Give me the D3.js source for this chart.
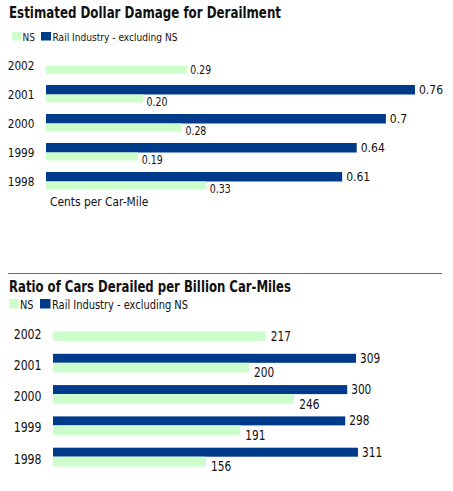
<!DOCTYPE html>
<html><head><meta charset="utf-8">
<script src="https://cdn.jsdelivr.net/npm/d3@7/dist/d3.min.js"></script>
<style>
html,body{margin:0;padding:0;background:#fff;}
svg{display:block;}
text{font-family:"Liberation Sans Narrow","DejaVu Sans Condensed","Open Sans",sans-serif;fill:#111;}
</style></head>
<body>
<svg id="c" width="453" height="491"></svg>
<script>
const years = ["2002","2001","2000","1999","1998"];
const seriesNames = ["NS","Rail Industry - excluding NS"];
const damageNS = [0.29, 0.20, 0.28, 0.19, 0.33];
const damageRail = [null, 0.76, 0.7, 0.64, 0.61];
const damageRailLabels = ["", "0.76", "0.7", "0.64", "0.61"];
const damageNSLabels = ["0.29", "0.20", "0.28", "0.19", "0.33"];
const ratioNS = [217, 200, 246, 191, 156];
const ratioRail = [null, 309, 300, 298, 311];
const title1 = "Estimated Dollar Damage for Derailment";
const title2 = "Ratio of Cars Derailed per Billion Car-Miles";
const unitLabel = "Cents per Car-Mile";

const GREEN = "#ccffcc", BLUE = "#003a8a";
const svg = d3.select("#c");

function drawChart(cfg){
  const g = svg.append("g");
  g.append("text").attr("x", 9).attr("y", cfg.titleY)
    .attr("font-weight","bold").attr("font-size", cfg.titleSize)
    .attr("textLength", cfg.titleLen).attr("lengthAdjust","spacingAndGlyphs")
    .text(cfg.title);
  // legend
  const lg = g.append("g");
  lg.append("rect").attr("x", cfg.leg.x1).attr("y", cfg.leg.y).attr("width", cfg.leg.sw).attr("height", cfg.leg.sh).attr("fill", GREEN);
  lg.append("text").attr("class","cond").attr("data-cf",0.9).attr("x", cfg.leg.x1 + cfg.leg.sw + 1.5).attr("y", cfg.leg.y + cfg.leg.sh).attr("font-size", cfg.leg.fs).text(seriesNames[0]);
  lg.append("rect").attr("x", cfg.leg.x2).attr("y", cfg.leg.y).attr("width", cfg.leg.sw+1).attr("height", cfg.leg.sh).attr("fill", BLUE);
  lg.append("text").attr("x", cfg.leg.x2 + cfg.leg.sw + 2.5).attr("y", cfg.leg.y + cfg.leg.sh).attr("font-size", cfg.leg.fs)
    .attr("textLength", cfg.leg.len2).attr("lengthAdjust","spacingAndGlyphs").text(seriesNames[1]);

  const x = d3.scaleLinear().domain(cfg.xDomain).range(cfg.xRange);
  const y = d3.scaleBand().domain(years).range([cfg.yTop, cfg.yTop + cfg.step*years.length]).padding(0);
  const rows = years.map((yr,i)=>({yr, ns:cfg.ns[i], rail:cfg.rail[i], nsL:cfg.nsLabels[i], railL:cfg.railLabels[i]}));

  const row = g.selectAll("g.row").data(rows).join("g").attr("class","row");
  row.filter(d=>d.rail!=null).append("rect")
    .attr("x", x(0)).attr("y", d=>y(d.yr)).attr("width", d=>x(d.rail)-x(0)).attr("height", cfg.bh)
    .attr("fill", BLUE);
  row.append("rect")
    .attr("x", x(0)).attr("y", d=>y(d.yr)+cfg.bh).attr("width", d=>x(d.ns)-x(0)).attr("height", cfg.gh)
    .attr("fill", GREEN);
  // year labels
  row.append("text").attr("class","cond").attr("data-cf",0.9).attr("x", cfg.yearX).attr("y", d=>y(d.yr)+cfg.yearDy)
    .attr("text-anchor","end").attr("font-size", cfg.yearFs).text(d=>d.yr);
  // value labels
  row.filter(d=>d.rail!=null).append("text")
    .attr("class", cfg.railFont ? null : "cond").attr("data-cf",0.87)
    .attr("x", d=>x(d.rail)+cfg.railDx).attr("y", d=>y(d.yr)+cfg.railDy)
    .attr("font-size", cfg.railFs).attr("font-family", cfg.railFont)
    .text(d=>d.railL);
  row.append("text").attr("class","cond").attr("data-cf",0.87)
    .attr("x", d=>x(d.ns)+cfg.nsDx).attr("y", d=>y(d.yr)+cfg.bh+cfg.gh+(d.rail!=null?cfg.nsShift:0))
    .attr("font-size", cfg.nsFs).text(d=>d.nsL);
  return {x,y};
}

drawChart({
  title: title1, titleY: 17.5, titleSize: 15.5, titleLen: 272,
  leg: {x1:12, x2:41, y:32, sw:9, sh:8.5, fs:11, len2:125},
  xDomain:[0,0.8], xRange:[46, 46+0.8*485.5],
  yTop:56, step:29, bh:9.5, gh:8,
  ns: damageNS, rail: damageRail, nsLabels: damageNSLabels, railLabels: damageRailLabels,
  yearX:34.5, yearDy:13.5, yearFs:13,
  railDx:4, railDy:9, railFs:12, railFont:"Liberation Sans, Arial, sans-serif",
  nsDx:3.5, nsFs:12, nsShift:3.5
});

svg.append("text").attr("class","cond").attr("data-cf",0.95).attr("x",50).attr("y",205.5).attr("font-size",12.5).text(unitLabel);

svg.append("line").attr("x1",8).attr("x2",442).attr("y1",273.5).attr("y2",273.5)
  .attr("stroke","#2e8a6c").attr("stroke-width",1);

drawChart({
  title: title2, titleY: 291.5, titleSize: 15.5, titleLen: 282,
  leg: {x1:9, x2:40, y:299, sw:9.5, sh:9.5, fs:12, len2:136},
  xDomain:[0,400], xRange:[53, 53+400*0.9806],
  yTop:322.5, step:31.3, bh:9, gh:9.7,
  ns: ratioNS, rail: ratioRail, nsLabels: ratioNS.map(String), railLabels: ratioRail.map(v=>v==null?"":String(v)),
  yearX:41.5, yearDy:16, yearFs:13.5,
  railDx:4, railDy:9, railFs:13.5, railFont:null,
  nsDx:5, nsFs:13.5, nsShift:4.7
});

// condense narrow-font text to mimic a condensed typeface
svg.selectAll("text.cond").each(function(){
  const w = this.getComputedTextLength();
  const f = +this.getAttribute("data-cf") || 0.9;
  d3.select(this).attr("textLength", w*f).attr("lengthAdjust","spacingAndGlyphs");
});
</script>
</body></html>
